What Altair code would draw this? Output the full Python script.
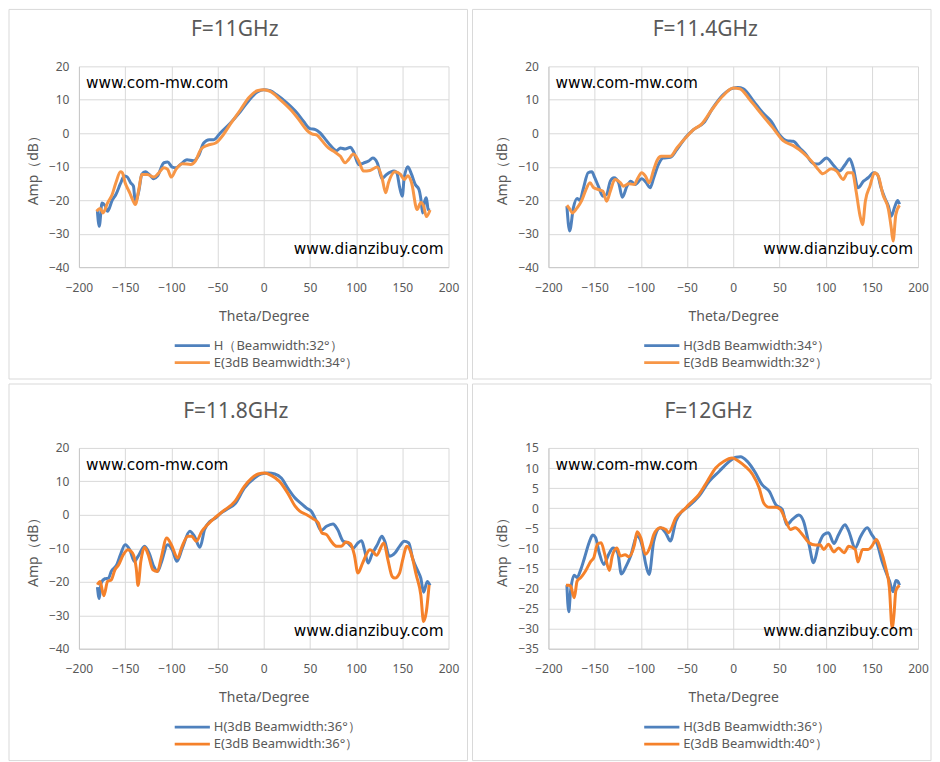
import altair as alt
import pandas as pd

# ---------------- data ----------------
titles = ["F=11GHz", "F=11.4GHz", "F=11.8GHz", "F=12GHz"]
h_labels = ["H（Beamwidth:32°）", "H(3dB Beamwidth:34°）", "H(3dB Beamwidth:36°）", "H(3dB Beamwidth:36°）"]
e_labels = ["E(3dB Beamwidth:34°）", "E(3dB Beamwidth:32°）", "E(3dB Beamwidth:36°）", "E(3dB Beamwidth:40°）"]
x_ticks = [-200, -150, -100, -50, 0, 50, 100, 150, 200]
y_ticks_a = [-40, -30, -20, -10, 0, 10, 20]
y_ticks_b = [-35, -30, -25, -20, -15, -10, -5, 0, 5, 10, 15]

p1_h_theta = [-180, -178, -175, -172, -169, -164, -160, -155, -151, -148, -144, -141, -139, -135, -132, -128, -124, -119, -115, -108, -104, -99, -95, -90, -83, -76, -70, -65, -59, -54, -47, -36, -25, -14, -7, 0, 7, 14, 25, 36, 43, 50, 56, 61, 67, 72, 79, 83, 88, 94, 97, 103, 108, 114, 118, 123, 128, 133, 141, 144, 147, 150, 152, 156, 160, 164, 168, 170, 172, 174, 176, 178, 180]
p1_h_amp = [-23.3, -27.8, -20.8, -21.5, -23.3, -20, -18.3, -15, -12.8, -13, -14.8, -15.8, -20.5, -17, -12.3, -11.5, -12.3, -13.6, -12.8, -8.8, -8.6, -10.1, -10.3, -9.3, -7.9, -8.2, -6.4, -2.9, -1.9, -1.9, 0.1, 3.1, 6.6, 10.5, 12.3, 13.0, 12.7, 11.5, 9.1, 6.1, 3.6, 1.4, 1.1, 0.1, -1.9, -3.6, -5.2, -4.4, -4.7, -4.2, -5.4, -9.4, -8.9, -8.2, -7.4, -8.9, -13.5, -12.3, -11.3, -11.8, -16, -18.8, -13.3, -10.0, -12.3, -15.3, -16.8, -19.5, -23.8, -20.5, -19.3, -22.8, -23]
p1_e_theta = [-181, -177, -174, -169, -164, -160, -155, -153, -150, -145, -142, -139, -135, -132, -126, -119, -114, -108, -104, -100, -95, -88, -79, -74, -68, -61, -52, -45, -36, -25, -16, -7, 0, 7, 18, 29, 38, 47, 52, 58, 63, 70, 77, 83, 88, 92, 97, 103, 108, 115, 123, 128, 132, 135, 142, 148, 152, 156, 160, 166, 170, 173, 176, 180]
p1_e_amp = [-23.3, -22.5, -23.8, -20.8, -18.3, -14.8, -11.5, -11.8, -14.8, -17.8, -19.8, -21.3, -16.5, -12.3, -12.3, -13.1, -12.0, -10.3, -10.8, -13.1, -10.8, -9.1, -9.3, -8.3, -4.8, -3.6, -2.9, -0.9, 2.8, 7.1, 10.7, 12.7, 13.0, 12.5, 10.0, 7.1, 4.1, 0.8, -0.2, -0.6, -2.2, -4.4, -5.6, -6.9, -8.8, -7.8, -6.2, -8.4, -11.3, -11.1, -10.1, -13.3, -17.8, -14.8, -11.5, -12.3, -13.8, -12.7, -14.8, -22.8, -20.7, -21.7, -24.9, -22.9]

p2_h_theta = [-180, -177, -173, -169, -166, -162, -157, -153, -150, -146, -141, -137, -133, -129, -124, -120, -115, -111, -106, -99, -94, -90, -86, -81, -76, -68, -61, -52, -43, -32, -22, -11, 0, 5, 11, 22, 32, 41, 50, 58, 65, 72, 79, 86, 92, 101, 108, 115, 121, 126, 130, 135, 141, 146, 152, 156, 160, 164, 168, 171, 175, 178, 180]
p2_h_amp = [-21.8, -29.2, -22.3, -19.5, -20.0, -16.3, -11.8, -11.5, -13.2, -15.8, -18.8, -18.3, -14.3, -13.3, -14.8, -19.1, -15.8, -14.3, -15.3, -13.6, -14.8, -16.3, -13.3, -9.4, -7.4, -7.2, -4.9, -1.4, 1.1, 3.1, 7.6, 11.5, 13.5, 13.7, 13.3, 9.6, 6.1, 3.6, -0.4, -2.2, -2.4, -4.4, -6.4, -8.9, -9.2, -7.4, -9.4, -11.3, -9.4, -7.6, -10.4, -16.3, -14.3, -13.3, -11.8, -12.3, -16.3, -19.3, -21.8, -24.8, -21.8, -20.1, -21.2]
p2_e_theta = [-180, -177, -174, -169, -164, -160, -155, -151, -146, -141, -137, -133, -128, -122, -119, -113, -107, -104, -99, -95, -91, -86, -82, -78, -68, -61, -50, -43, -34, -23, -11, 0, 7, 18, 31, 43, 54, 65, 76, 85, 92, 97, 106, 112, 119, 124, 129, 133, 137, 140, 143, 148, 153, 157, 162, 168, 171, 173, 176, 180]
p2_e_amp = [-21.5, -22.6, -23.8, -22.3, -20.1, -17.3, -14.8, -16.3, -16.8, -17.3, -20.3, -17.3, -13.8, -14.8, -15.8, -15.1, -15.3, -13.8, -11.8, -12.8, -14.8, -10.8, -7.9, -6.9, -6.9, -4.4, -0.9, 1.1, 2.8, 7.1, 11.2, 13.5, 13.3, 10.0, 5.6, 1.6, -2.2, -3.7, -5.9, -8.4, -10.8, -12.1, -10.6, -11.3, -13.8, -11.8, -11.8, -17.3, -24.3, -27.3, -20.3, -15.8, -11.8, -12.8, -18.3, -22.8, -28.2, -32.2, -24.3, -21.5]

p3_h_theta = [-180, -178, -176, -172, -168, -165, -159, -155, -150, -145, -140, -136, -129, -124, -119, -115, -111, -104, -99, -94, -88, -80, -75, -69, -64, -58, -53, -46, -39, -31, -21, -10, -3, 5, 12, 19, 26, 34, 41, 46, 52, 57, 62, 68, 75, 80, 86, 91, 97, 102, 106, 109, 113, 117, 123, 128, 131, 136, 142, 147, 152, 157, 161, 167, 170, 173, 177, 180]
p3_h_amp = [-21.6, -25, -20.4, -19.1, -18.9, -16.9, -14.9, -11.9, -8.9, -10.4, -13.9, -12.4, -9.4, -11.4, -15.4, -16.9, -14.4, -8.9, -10.4, -13.9, -9.9, -4.9, -6.4, -9.7, -4.4, -1.9, -1.1, 0.6, 1.8, 3.3, 8.0, 11.0, 12.2, 12.5, 12.2, 11.0, 8.0, 5.0, 3.3, 2.1, 0.9, -1.9, -4.7, -3.4, -2.7, -4.4, -7.9, -8.4, -9.9, -8.4, -7.7, -10.4, -14.4, -11.9, -8.9, -6.4, -7.9, -12.4, -11.4, -9.4, -7.9, -8.4, -12.9, -16.9, -18.9, -23.1, -19.9, -21.1]
p3_e_theta = [-180, -177, -176, -173, -169, -165, -161, -157, -152, -147, -142, -138, -136, -133, -129, -125, -120, -115, -111, -105, -100, -93, -89, -82, -78, -73, -67, -60, -53, -44, -31, -21, -13, -6, 1, 8, 17, 26, 34, 39, 46, 53, 59, 63, 68, 73, 79, 84, 89, 94, 98, 102, 107, 115, 118, 122, 130, 134, 139, 142, 147, 150, 155, 160, 165, 170, 173, 176, 179]
p3_e_amp = [-20.9, -19.9, -20.9, -24.2, -19.9, -19.4, -16.4, -14.9, -11.9, -10.4, -11.4, -15.9, -21.1, -13.9, -9.7, -11.9, -16.4, -16.9, -12.9, -6.9, -8.9, -12.9, -9.9, -6.4, -6.4, -7.9, -4.9, -2.7, -0.9, 1.1, 4.1, 8.5, 11.0, 12.2, 12.5, 11.8, 10.0, 6.5, 2.6, 1.1, 0.1, -1.1, -2.4, -5.4, -5.9, -7.9, -9.4, -9.4, -8.1, -8.7, -11.9, -17.4, -14.4, -10.4, -10.9, -12.1, -8.4, -12.9, -18.4, -18.9, -17.4, -13.9, -9.4, -11.9, -17.9, -23.9, -31.9, -28.9, -20.9]

p4_h_theta = [-180, -178, -176, -172, -169, -165, -161, -156, -152, -149, -145, -140, -135, -130, -125, -121, -116, -111, -104, -98, -95, -91, -86, -79, -73, -68, -62, -55, -48, -37, -26, -15, -6, 3, 8, 15, 24, 31, 39, 46, 53, 58, 64, 71, 76, 82, 87, 92, 98, 103, 109, 114, 121, 125, 132, 138, 145, 150, 156, 161, 166, 169, 173, 176, 178, 180]
p4_h_amp = [-19.2, -25.8, -20.6, -16.7, -17.3, -15.3, -12.4, -8.6, -6.7, -7.3, -11.1, -14.0, -11.6, -9.9, -11.1, -16.4, -14.5, -11.9, -7.0, -9.9, -13.6, -16.5, -8.2, -4.9, -6.2, -8.2, -3.2, -0.7, 0.5, 3.0, 6.7, 9.2, 11.3, 12.7, 12.8, 11.7, 8.8, 5.9, 4.2, 0.9, -0.3, -4.1, -2.8, -1.7, -3.2, -9.0, -13.6, -9.5, -6.6, -6.1, -8.8, -6.6, -4.1, -5.7, -9.9, -7.0, -4.9, -6.6, -9.0, -13.2, -16.3, -18.1, -20.8, -18.0, -18.2, -19.2]
p4_e_theta = [-181, -178, -176, -172, -169, -165, -160, -154, -151, -147, -143, -139, -134, -131, -126, -122, -117, -113, -107, -104, -100, -95, -89, -86, -79, -73, -70, -62, -53, -48, -37, -28, -19, -10, -1, 6, 13, 21, 28, 33, 39, 46, 51, 57, 62, 67, 75, 82, 89, 94, 98, 103, 109, 114, 120, 125, 132, 135, 140, 146, 150, 155, 159, 165, 169, 172, 174, 176, 180]
p4_e_amp = [-19.2, -19.2, -19.4, -22.3, -18.2, -17.3, -15.7, -13.2, -12.4, -9.0, -8.6, -11.5, -15.5, -12.0, -9.9, -11.9, -11.6, -12.1, -9.2, -5.9, -7.4, -11.5, -9.0, -6.6, -4.9, -5.3, -6.1, -2.4, -0.3, 0.9, 3.4, 6.7, 10.0, 11.7, 12.5, 11.7, 10.4, 8.4, 5.1, 1.3, 0.2, 0.2, -0.3, -3.2, -5.3, -4.9, -6.6, -8.6, -9.2, -9.1, -10.3, -9.0, -10.9, -9.9, -11.1, -9.5, -10.3, -13.4, -10.3, -10.3, -9.5, -7.8, -9.9, -14.8, -19.8, -29.8, -26.5, -20.6, -19.2]

# ---------------- styling ----------------
FONT = "Noto Sans"
GREY = "#595959"
PW, PH = 370, 201


def one_text(txt, **mark_kw):
    return alt.Chart(pd.DataFrame({"t": [txt]})).mark_text(**mark_kw)


def panel(i, h_t, h_a, e_t, e_a, y_dom, y_vals, colors, title_x, frame):
    assert len(h_t) == len(h_a) and len(e_t) == len(e_a), i
    df = pd.DataFrame({
        "theta": h_t + e_t,
        "amp": h_a + e_a,
        "series": [h_labels[i]] * len(h_t) + [e_labels[i]] * len(e_t),
        "ord": [0] * len(h_t) + [1] * len(e_t),
    })
    dom = [h_labels[i], e_labels[i]]
    lines = alt.Chart(df).mark_line(interpolate="monotone", strokeWidth=3).encode(
        x=alt.X("theta:Q", scale=alt.Scale(domain=[-200, 200], nice=False, zero=False, padding=0),
                axis=alt.Axis(values=x_ticks, title="Theta/Degree", ticks=False, labelFlush=False,
                              labelPadding=15, titlePadding=16, format="d")),
        y=alt.Y("amp:Q", scale=alt.Scale(domain=y_dom, nice=False, zero=False, padding=0),
                axis=alt.Axis(values=y_vals, title="Amp（dB）", ticks=False, labelFlush=False,
                              labelPadding=10, titlePadding=8, format="d")),
        color=alt.Color("series:N", scale=alt.Scale(domain=dom, range=colors), sort=dom,
                        legend=alt.Legend(orient="none", legendX=104, legendY=270, title=None,
                                          direction="vertical", symbolType="M-2.2,0L2.2,0",
                                          symbolSize=256, symbolStrokeWidth=2.75,
                                          labelFont=FONT, labelFontSize=13, labelColor=GREY,
                                          labelOffset=12, rowPadding=0)),
        detail="ord:O",
    )
    title = one_text(titles[i], align="center", baseline="alphabetic", font=FONT, fontSize=21,
                     color=GREY).encode(text="t:N", x=alt.value(title_x), y=alt.value(-30))
    wm1 = one_text("www.com-mw.com", align="left", baseline="middle", font="DejaVu Sans",
                   fontSize=15.3, color="#000000").encode(text="t:N", x=alt.value(7), y=alt.value(17))
    wm2 = one_text("www.dianzibuy.com", align="right", baseline="middle", font="DejaVu Sans",
                   fontSize=15.3, color="#000000").encode(text="t:N", x=alt.value(PW - 5), y=alt.value(PH - 18))
    fl, fr, ft, fb = frame
    box = alt.Chart(pd.DataFrame({"b": [0]})).mark_rect(
        fillOpacity=0, stroke="#d9d9d9", strokeWidth=1
    ).encode(x=alt.value(fl), x2=alt.value(fr), y=alt.value(ft), y2=alt.value(fb))
    return alt.layer(box, lines, wm1, wm2, title).properties(width=PW, height=PH)


blue = "#4F81BD"
c1 = [blue, "#F79646"]
c2 = [blue, "#F5812A"]

p1 = panel(0, p1_h_theta, p1_h_amp, p1_e_theta, p1_e_amp, [-40, 20], y_ticks_a, c1, 156, (-70, 389, -57, 313))
p2 = panel(1, p2_h_theta, p2_h_amp, p2_e_theta, p2_e_amp, [-40, 20], y_ticks_a, c1, 157, (-76, 383, -57, 313))
p3 = panel(2, p3_h_theta, p3_h_amp, p3_e_theta, p3_e_amp, [-40, 20], y_ticks_a, c2, 157, (-70, 389, -64, 313))
p4 = panel(3, p4_h_theta, p4_h_amp, p4_e_theta, p4_e_amp, [-35, 15], y_ticks_b, c2, 160, (-76, 383, -64, 313))

chart = alt.concat(p1, p2, p3, p4, columns=2, spacing={"row": 181, "column": 100}, bounds="flush").resolve_scale(
    color="independent", x="independent", y="independent"
).configure(padding=0, background="white").configure_view(stroke=None).configure_axis(
    labelFont=FONT, labelFontSize=12, labelColor=GREY, titleFont=FONT, titleFontSize=14,
    titleColor=GREY, titleFontWeight="normal", gridColor="#d9d9d9", domainColor="#c8c8c8",
    gridWidth=1,
)

chart.save("out.html", embed_options={"renderer": "svg", "actions": False})
